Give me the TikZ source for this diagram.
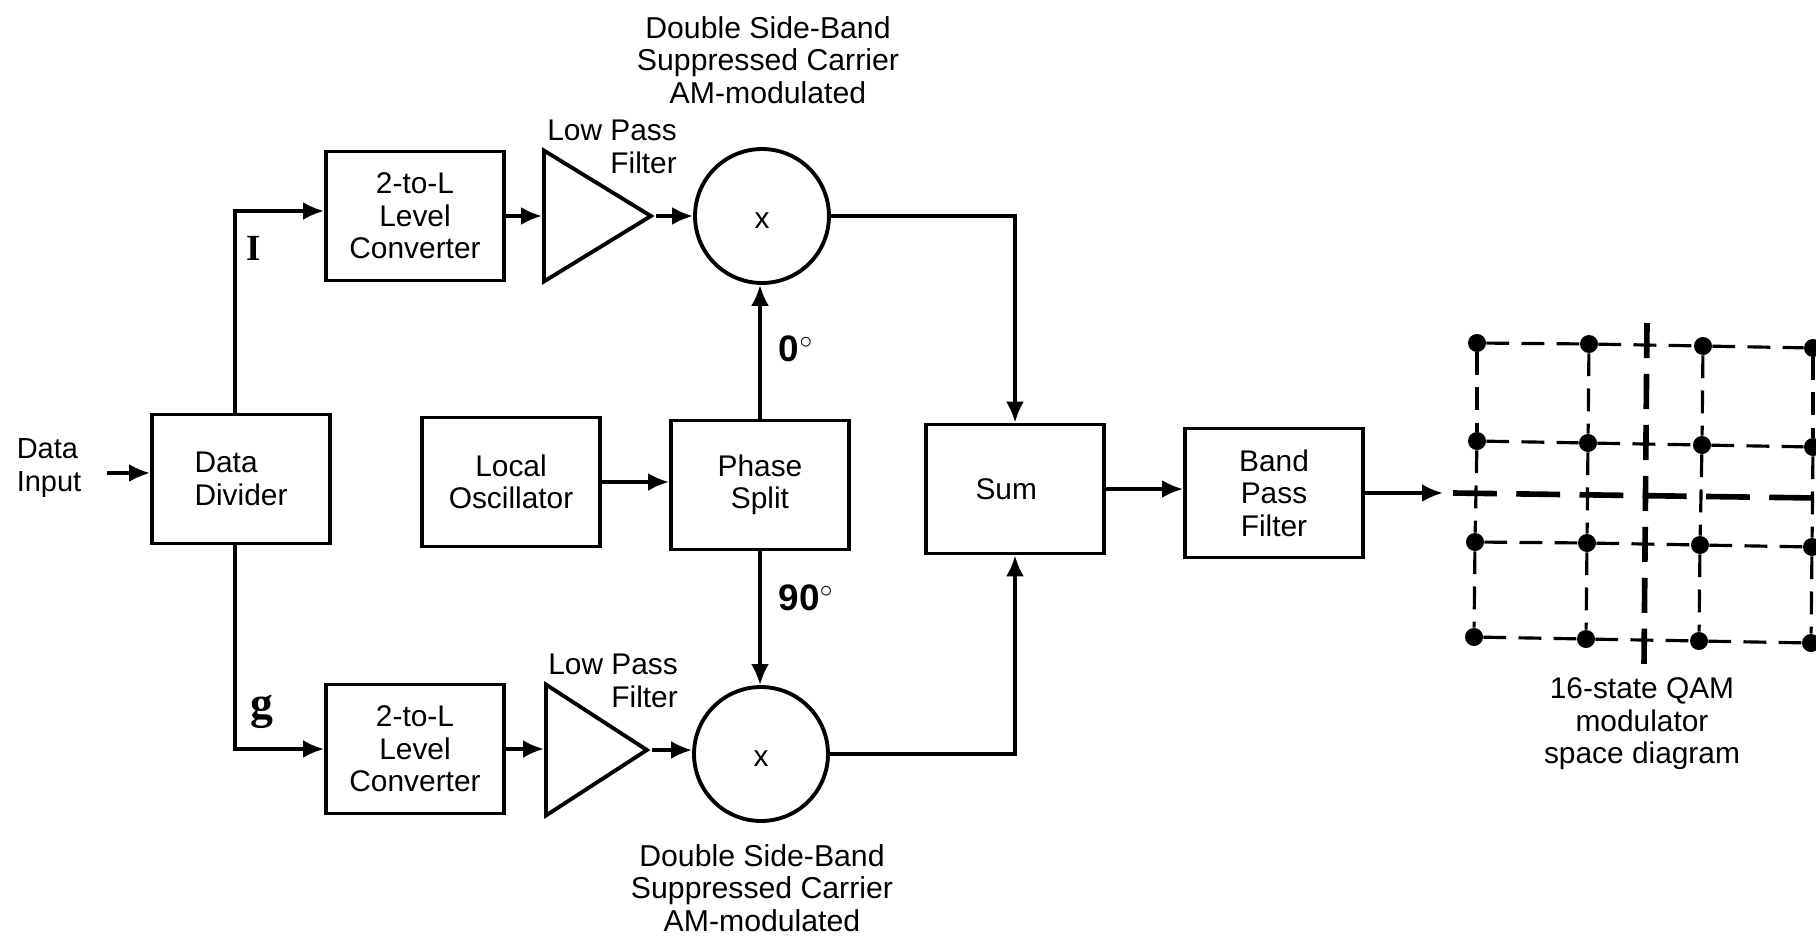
\documentclass[tikz,border=0pt]{standalone}
\usepackage{fontspec}
\setmainfont{Liberation Sans}
\newfontfamily\labelfont{Liberation Serif}
\usetikzlibrary{arrows.meta,shapes.geometric}
\tikzset{
    blockbox/.style={draw,line width=2.2pt,minimum width=3.56cm,minimum height=2.58cm,align=center,font=\fontsize{17}{18.5}\selectfont},
    mixer/.style={draw,circle,line width=2.2pt,minimum size=2.68cm,font=\fontsize{17}{18.5}\selectfont},
    lpf/.style={draw,isosceles triangle,isosceles triangle stretches,line width=2.2pt,minimum width=2.62cm,minimum height=2.14cm,inner sep=0pt,anchor=lower side},
    caption/.style={align=center,font=\fontsize{17.2}{18.5}\selectfont},
    smalltext/.style={align=center,font=\fontsize{17}{18.5}\selectfont},
    conn/.style={line width=2pt,-{Latex[length=0.42cm,width=0.36cm]}},
    griddot/.style={circle,fill=black,inner sep=0pt,minimum size=0.36cm},
    griddash/.style={line width=1.8pt,dash pattern=on 13pt off 7pt},
    axisdashh/.style={line width=3.2pt,dash pattern=on 25pt off 11pt},
    axisdashv/.style={line width=3.2pt,dash pattern=on 20pt off 9pt}
}
\begin{document}
\begin{tikzpicture}[x=0.02cm,y=-0.02cm]
    \useasboundingbox (0,0) rectangle (1816,937);

    \node[blockbox,align=left] (divider) at (241,479) {Data\\Divider};
    \node[blockbox] (convi) at (415,216) {2-to-L\\Level\\Converter};
    \node[blockbox] (convq) at (415,749) {2-to-L\\Level\\Converter};
    \node[lpf] (lpfi) at (542,216) {};
    \node[lpf,minimum height=2.02cm] (lpfq) at (544,750) {};
    \node[mixer] (mixi) at (762,216) {\smash{\raisebox{-7pt}{x}}};
    \node[mixer] (mixq) at (761,754) {\smash{\raisebox{-7pt}{x}}};
    \node[blockbox] (osc) at (511,482) {Local\\Oscillator};
    \node[blockbox] (split) at (760,485) {Phase\\Split};
    \node[blockbox] (sum) at (1015,489) {Sum\hspace{0.35cm}};
    \node[blockbox] (bandpass) at (1274,493) {Band\\Pass\\Filter};

    \node[smalltext,align=left,font=\fontsize{16.5}{18.5}\selectfont] (input) at (49,468) {Data\\Input};
    \node[caption] (dsbi) at (768,60) {Double Side-Band\\Suppressed Carrier\\AM-modulated};
    \node[caption] (dsbq) at (762,888) {Double Side-Band\\Suppressed Carrier\\AM-modulated};
    \node[smalltext,align=right,anchor=east] (lowi) at (683,147) {Low Pass\\Filter};
    \node[smalltext,align=right,anchor=east] (lowq) at (684,681) {Low Pass\\Filter};
    \node[smalltext] (qam) at (1642,724) {16-state QAM\\modulator\\space diagram};
    \node[font=\fontsize{21}{21}\selectfont\bfseries\labelfont] (ilabel) at (254,248) {I};
    \node[font=\fontsize{26}{26}\selectfont\bfseries\labelfont] (qlabel) at (262,712) {g};
    \node[font=\fontsize{21}{21}\selectfont\bfseries] (zero) at (796,349) {0$^\circ$};
    \node[font=\fontsize{21}{21}\selectfont\bfseries] (ninety) at (806,598) {90$^\circ$};

    \coordinate (split line) at (235,0);
    \coordinate (gridin) at (1443,493);
    \coordinate (inputstart) at (107,473);
    \draw[conn] (inputstart) -- (inputstart -| divider.west);
    \draw[conn] (split line |- divider.north) |- ([yshift=0.1cm]convi.west);
    \draw[conn] (split line |- divider.south) |- (convq.west);
    \draw[conn] (convi.east) -- (lpfi.lower side);
    \draw[conn] (convq.east) -- (convq.east -| lpfq.lower side);
    \draw[conn] (lpfi.apex) -- (mixi.west);
    \draw[conn] (lpfq.apex) -- (lpfq.apex -| mixq.west);
    \draw[conn] (mixi.east) -| (sum.north);
    \draw[conn] (mixq.east) -| (sum.south);
    \draw[conn] (split.north) -- (split.north |- mixi.south);
    \draw[conn] (split.south) -- (split.south |- mixq.north);
    \draw[conn] (osc.east) -- (osc.east -| split.west);
    \draw[conn] (sum.east) -- (sum.east -| bandpass.west);
    \draw[conn] (bandpass.east) -- (gridin);

    \foreach \n/\x/\y in {11/1477/343,12/1589/344,13/1703/346,14/1813/348,
                          21/1477/441,22/1588/443,23/1702/445,24/1813/447,
                          31/1475/542,32/1587/543,33/1700/545,34/1812/547,
                          41/1474/637,42/1586/639,43/1699/641,44/1811/643} {
        \node[griddot] (d\n) at (\x,\y) {};
    }
    \foreach \r in {1,...,4} {
        \draw[griddash] (d\r1) -- (d\r2);
        \draw[griddash] (d\r2) -- (d\r3);
        \draw[griddash] (d\r3) -- (d\r4);
    }
    \foreach \c in {1,...,4} {
        \draw[griddash] (d1\c) -- (d2\c);
        \draw[griddash] (d2\c) -- (d3\c);
        \draw[griddash] (d3\c) -- (d4\c);
    }
    \coordinate (axisl) at (1453,493);
    \coordinate (axisr) at (1816,498);
    \coordinate (axist) at (1647,323);
    \coordinate (axisb) at (1644,665);
    \draw[axisdashh] (axisl) -- (axisr);
    \draw[axisdashv] (axist) -- (axisb);
\end{tikzpicture}
\end{document}
